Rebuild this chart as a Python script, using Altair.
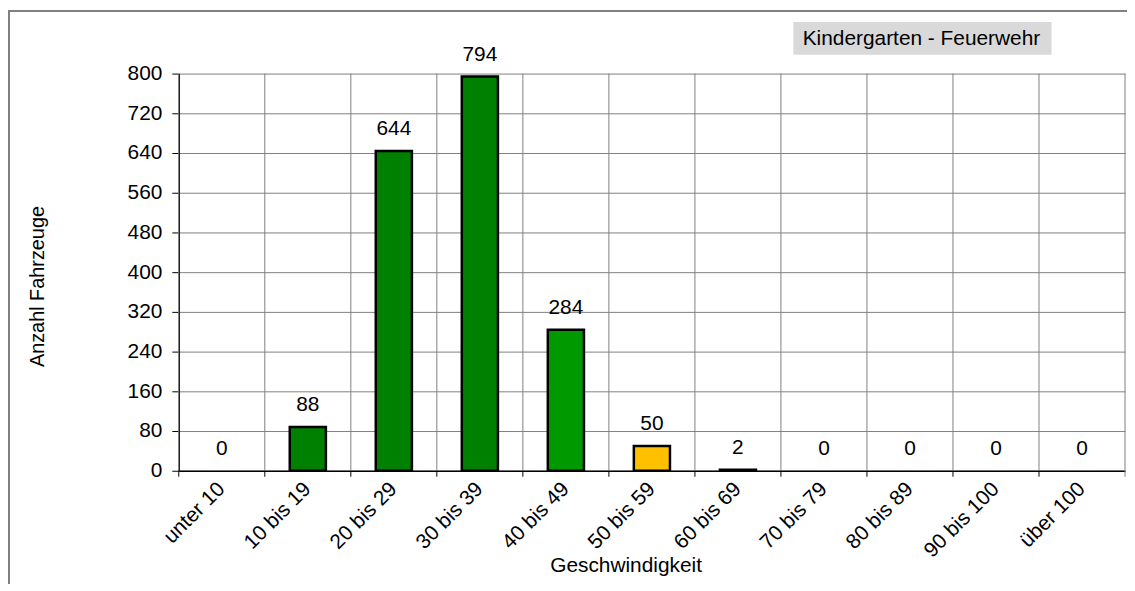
import altair as alt
import pandas as pd

CATEGORIES = ["unter 10", "10 bis 19", "20 bis 29", "30 bis 39", "40 bis 49",
              "50 bis 59", "60 bis 69", "70 bis 79", "80 bis 89", "90 bis 100", "über 100"]
COUNTS = [0, 88, 644, 794, 284, 50, 2, 0, 0, 0, 0]
BAR_COLORS = ["#008000", "#008000", "#008000", "#008000", "#009900",
              "#FFC000", "#FF0000", "#FF0000", "#FF0000", "#FF0000", "#FF0000"]
Y_TICKS = [0, 80, 160, 240, 320, 400, 480, 560, 640, 720, 800]
BOX_LABEL = ["Kindergarten - Feuerwehr"]
X_TITLE = "Geschwindigkeit"
Y_TITLE = "Anzahl Fahrzeuge"

W, H = 953, 400
FONT = "Liberation Sans"
GRID = "#808080"
FS = 21

df = pd.DataFrame({"cat": CATEGORIES, "n": COUNTS})
one = pd.DataFrame({"t": BOX_LABEL})

xscale = alt.Scale(domain=CATEGORIES, paddingInner=0, paddingOuter=0)
yscale = alt.Scale(domain=[0, 800], nice=False)

x_axis = alt.Axis(
    title=X_TITLE, labelAngle=-45, labelAlign="right", labelBaseline="middle",
    ticks=False, grid=False, domainColor="black", domainWidth=1.5,
    labelFontSize=FS, labelFont=FONT, labelColor="black", labelPadding=15,
    labelOverlap=False,
    titleFontSize=FS, titleFont=FONT, titleFontWeight="normal", titleColor="black",
    titleX=450, titleY=101, titleBaseline="alphabetic",
)
y_axis = alt.Axis(
    values=Y_TICKS, title=Y_TITLE, grid=True, gridColor=GRID, gridWidth=1,
    tickColor="black", tickSize=7, domainColor="black", domainWidth=1.5,
    labelFontSize=FS, labelFont=FONT, labelColor="black", labelPadding=10,
    labelOverlap=False,
    titleFontSize=20, titleFont=FONT, titleFontWeight="normal", titleColor="black",
    titleX=-136, titleY=214, titleAngle=-90, titleBaseline="alphabetic", titleAlign="center",
)

x_main = alt.X("cat:N", sort=CATEGORIES, scale=xscale, axis=x_axis)
y_main = alt.Y("n:Q", scale=yscale, axis=y_axis)

base = alt.Chart(df)

vgrid = base.mark_rule(color=GRID, strokeWidth=1).encode(
    x=alt.X("cat:N", sort=CATEGORIES, scale=xscale, axis=x_axis, bandPosition=0),
    y=alt.value(0), y2=alt.value(H),
)
vgrid_end = alt.Chart(one).mark_rule(color=GRID, strokeWidth=1).encode(
    x=alt.value(W), y=alt.value(0), y2=alt.value(H + 6),
)
xticks = base.mark_rule(color="black", strokeWidth=1).encode(
    x=alt.X("cat:N", sort=CATEGORIES, scale=xscale, axis=x_axis, bandPosition=0),
    y=alt.value(H), y2=alt.value(H + 6),
)

bars = base.transform_filter("datum.n > 0").mark_bar(
    width=alt.RelativeBandSize(0.42), stroke="black", strokeWidth=2.5
).encode(
    x=x_main, y=y_main,
    color=alt.Color("cat:N", scale=alt.Scale(domain=CATEGORIES, range=BAR_COLORS), legend=None),
)

labels = base.mark_text(dy=-16, baseline="alphabetic", fontSize=FS, font=FONT, color="black").encode(
    x=x_main, y=y_main, text="n:Q",
)

box = alt.Chart(one).mark_rect(color="#D9D9D9").encode(
    x=alt.value(619), x2=alt.value(879), y=alt.value(-52), y2=alt.value(-19),
)
box_text = alt.Chart(one).mark_text(
    fontSize=FS, font=FONT, color="black", align="center", baseline="alphabetic"
).encode(x=alt.value(748), y=alt.value(-29), text="t:N")

frame = alt.Chart(one).mark_rect(
    fill="#ffffff", fillOpacity=0, stroke="#808080", strokeWidth=2
).encode(x=alt.value(-171), x2=alt.value(1200), y=alt.value(-63), y2=alt.value(800))

chart = alt.layer(vgrid, vgrid_end, xticks, bars, labels, box, box_text, frame).properties(
    width=W, height=H,
    padding={"left": 172, "top": 64, "right": 2, "bottom": 112},
    autosize=alt.AutoSizeParams(type="none"),
    background="white",
).configure_view(strokeWidth=0)

chart.save("out.html", embed_options={"renderer": "svg", "actions": False})
